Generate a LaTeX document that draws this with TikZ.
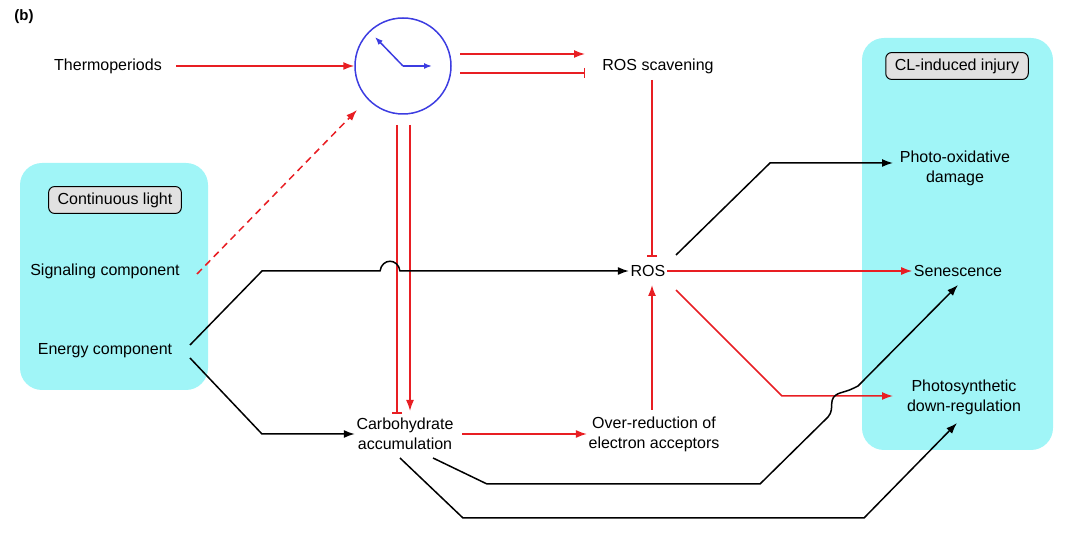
\documentclass[tikz,border=0pt]{standalone}
\usepackage{fontspec}
\setmainfont{Liberation Sans}
\usetikzlibrary{positioning,calc,arrows.meta}
\definecolor{lcyan}{RGB}{160,245,247}
\definecolor{lred}{RGB}{232,30,35}
\definecolor{lblue}{RGB}{60,60,225}
\definecolor{lgray}{RGB}{225,225,225}
\begin{document}
\begin{tikzpicture}[x=1pt,y=-1pt,line width=1.5pt,
  txt/.style={font=\fontsize{16}{20}\selectfont,align=center,inner sep=1pt},
  title/.style={txt,draw,line width=1pt,fill=lgray,rounded corners=6pt,inner xsep=9pt,inner ysep=6pt},
  panel/.style={fill=lcyan,rounded corners=22pt},
  rarr/.style={draw=lred,-{Latex[length=11pt,width=8pt]}},
  rbar/.style={draw=lred,-{Bar[width=10pt]}},
  barr/.style={draw=black,-{Latex[length=11pt,width=8pt]}}]
\useasboundingbox (0,0) rectangle (1080,534);
\node[font=\bfseries\fontsize{15}{18}\selectfont] (b) at (24,17) {(b)};
% panels
\fill[panel] (20,163) rectangle (208,390);
\fill[panel] (862,38) rectangle (1053,450);
\node[title] (cl) at (115,200) {Continuous light};
\node[title] (inj) at (957,66) {CL-induced injury};
% nodes
\node[txt] (thermo) at (108,66) {Thermoperiods};
\node[draw=lblue,circle,minimum size=96pt] (clock) at (403,66) {};
\coordinate (hub) at (403,66);
\draw[lblue,-{Latex[length=8pt,width=6pt]}] (hub) -- (375,37);
\draw[lblue,-{Latex[length=8pt,width=6pt]}] (hub) -- (432,66);
\node[txt] (scav) at (658,66) {ROS scavening};
\node[txt] (signal) at (105,271) {Signaling component};
\node[txt] (energy) at (105,351) {Energy component};
\node[txt] (ros) at (648,271) {ROS};
\node[txt] (carb) at (405,434) {Carbohydrate\\accumulation};
\node[txt] (over) at (654,434) {Over-reduction of\\electron acceptors};
\node[txt] (photo) at (955,168) {Photo-oxidative\\damage};
\node[txt] (sen) at (958,271) {Senescence};
\node[txt] (down) at (964,397) {Photosynthetic\\down-regulation};
% red links
\draw[rarr] (176,66) -- (clock.west);
\draw[rarr] (460,54) -- (585,54);
\draw[rbar] (460,73) -- (585,73);
\draw[rarr,dash pattern=on 7pt off 5pt] (197,274) -- (357,110);
\draw[rbar] (397,125) -- (397,414);
\draw[rarr] (410,125) -- (410,411);
\draw[rarr] (462,434) -- (over.west);
\draw[rarr] (652,410) -- (652,285);
\draw[rbar] (652,80) -- (652,257);
\draw[rarr] (ros.east) -- (sen.west);
\draw[rarr] (676,290) -- (782,396) -- (893,396);
% black links
\draw[barr] (190,345) -- (262,271) -- (380,271)
  .. controls (382,258) and (398,258) .. (400,271) -- (ros.west);
\draw[barr] (190,358) -- (262,434) -- (carb.west);
\draw[barr] (676,255) -- (770,163) -- (893,163);
\draw[barr] (433,458) -- (487,484) -- (760,484) -- (828,417)
  .. controls (836,408) and (826,398) .. (840,393) .. controls (850,390) .. (858,386) -- (958,285);
\draw[barr] (400,458) -- (463,518) -- (864,518) -- (957,423);
\end{tikzpicture}
\end{document}
